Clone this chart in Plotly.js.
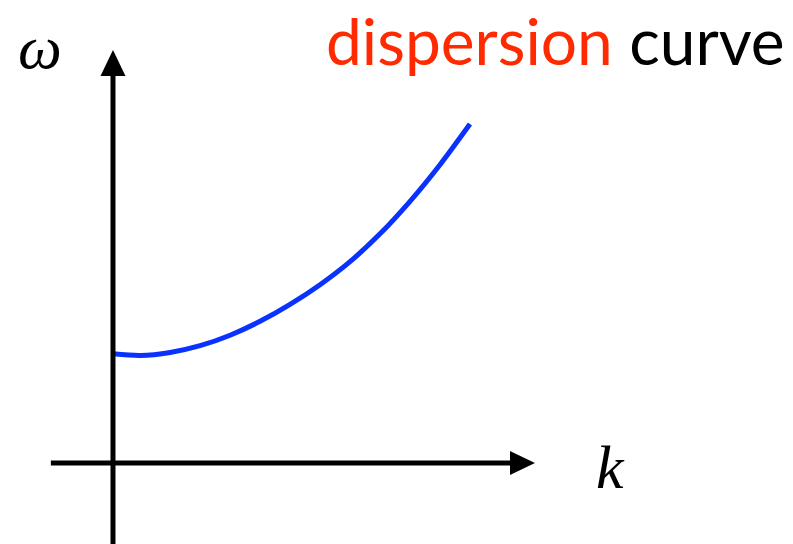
<!DOCTYPE html>
<html>
<head>
<meta charset="utf-8">
<script src="https://cdn.plot.ly/plotly-3.0.1.min.js"></script>
<style>
  html, body { margin: 0; padding: 0; background: #fff; }
  #chart { width: 793px; height: 544px; }
</style>
</head>
<body>
<div id="chart"></div>
<script>
// Dispersion relation omega(k): wave number and angular frequency samples
const kValues = [0, 0.076, 0.160, 0.244, 0.328, 0.412, 0.496, 0.580, 0.664, 0.748, 0.832, 0.916, 1.0];
const omegaValues = [0.322, 0.317, 0.326, 0.346, 0.377, 0.418, 0.468, 0.526, 0.594, 0.676, 0.772, 0.880, 1.0];

// Axis labels and heading
const titleWords = ["dispersion", "curve"];
const kLabel = "k";
const omegaLabel = "ω";

// Extent of the hand-drawn axes (data units)
const kAxisStart = -0.174, kAxisTip = 1.182;
const omegaAxisStart = -0.24, omegaAxisTip = 1.218;
const headLenK = 0.07, headHalfW = 0.0354;   // arrowhead on k axis
const headLenW = 0.0766, headHalfK = 0.035;  // arrowhead on omega axis

const curve = {
  x: kValues,
  y: omegaValues,
  mode: "lines",
  line: { color: "#0a32ff", width: 5, shape: "spline", smoothing: 0.8 },
  hoverinfo: "skip"
};

const axisStyle = { color: "#000", width: 5 };

const shapes = [
  // k axis
  { type: "line", xref: "x", yref: "y", x0: kAxisStart, y0: 0, x1: kAxisTip - headLenK + 0.005, y1: 0, line: axisStyle },
  { type: "path", xref: "x", yref: "y",
    path: `M ${kAxisTip - headLenK},${-headHalfW} L ${kAxisTip},0 L ${kAxisTip - headLenK},${headHalfW} Z`,
    fillcolor: "#000", line: { width: 0 } },
  // omega axis
  { type: "line", xref: "x", yref: "y", x0: 0, y0: omegaAxisStart, x1: 0, y1: omegaAxisTip - headLenW + 0.005, line: axisStyle },
  { type: "path", xref: "x", yref: "y",
    path: `M ${-headHalfK},${omegaAxisTip - headLenW} L 0,${omegaAxisTip} L ${headHalfK},${omegaAxisTip - headLenW} Z`,
    fillcolor: "#000", line: { width: 0 } }
];

const annotations = [
  { xref: "paper", yref: "paper", x: 0.992, y: 1.0, xanchor: "right", yanchor: "top",
    showarrow: false,
    text: `<span style="color:#ff2a00">${titleWords[0]}</span> <span style="color:#000">${titleWords[1]}</span>`,
    font: { family: "Lato, 'Open Sans', sans-serif", size: 64 } },
  { xref: "x", yref: "y", x: -0.204, y: 1.227, xanchor: "center", yanchor: "middle",
    showarrow: false, text: `<i>${omegaLabel}</i>`,
    font: { family: "'Liberation Serif', 'DejaVu Serif', serif", size: 62, color: "#000" } },
  { xref: "x", yref: "y", x: 1.394, y: -0.013, xanchor: "center", yanchor: "middle",
    showarrow: false, text: `<i>${kLabel}</i>`,
    font: { family: "'Liberation Serif', 'DejaVu Serif', serif", size: 62, color: "#000" } }
];

const layout = {
  width: 793, height: 544,
  margin: { l: 0, r: 0, t: 0, b: 0 },
  paper_bgcolor: "#fff", plot_bgcolor: "#fff",
  showlegend: false,
  xaxis: { range: [-0.3165, 1.9048], visible: false, fixedrange: true },
  yaxis: { range: [-0.2389, 1.3658], visible: false, fixedrange: true },
  shapes: shapes,
  annotations: annotations
};

Plotly.newPlot("chart", [curve], layout, { staticPlot: true, displayModeBar: false });
</script>
</body>
</html>
